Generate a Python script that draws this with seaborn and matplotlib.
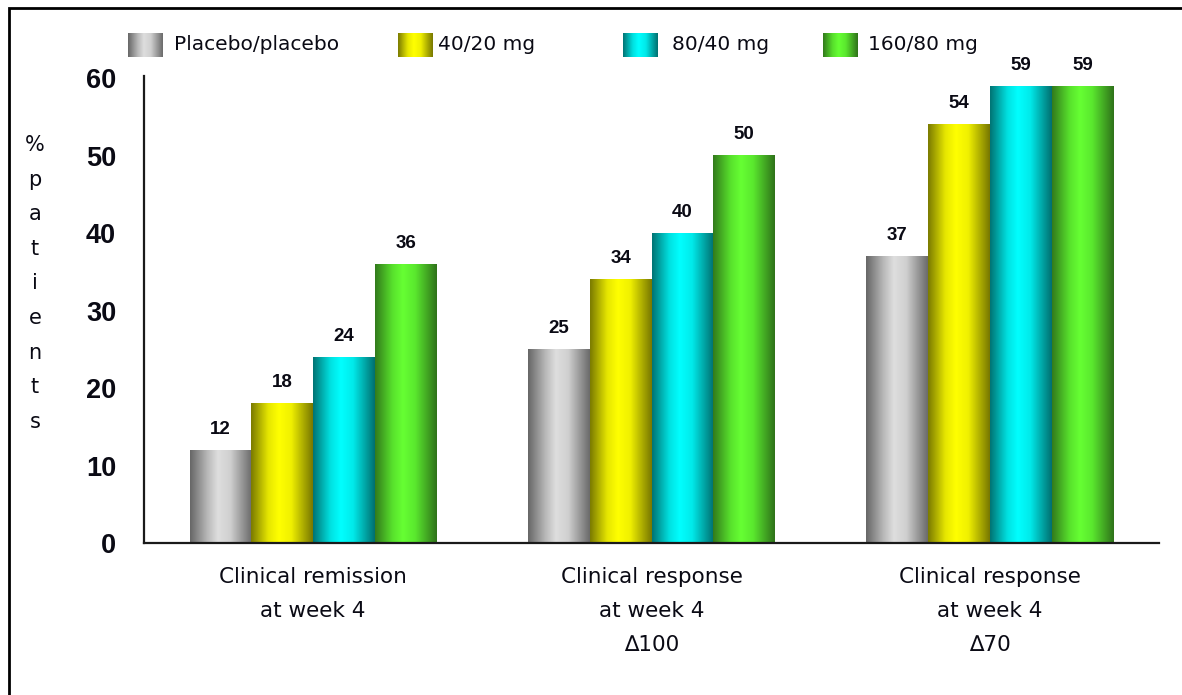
import numpy as np
import pandas as pd
import matplotlib
matplotlib.use("Agg")
import matplotlib.pyplot as plt
from matplotlib.colors import LinearSegmentedColormap
from matplotlib.patches import Rectangle
import seaborn as sns

# ---- data -------------------------------------------------------------
categories = [
    "Clinical remission\nat week 4",
    "Clinical response\nat week 4\n\u2206100",
    "Clinical response\nat week 4\n\u220670",
]
doses = ["Placebo/placebo", "40/20 mg", "80/40 mg", "160/80 mg"]
placebo = [12, 25, 37]
dose_40_20 = [18, 34, 54]
dose_80_40 = [24, 40, 59]
dose_160_80 = [36, 50, 59]
y_ticks = [0, 10, 20, 30, 40, 50, 60]

df = pd.DataFrame({
    "measure": categories * 4,
    "dose": np.repeat(doses, len(categories)),
    "pct": placebo + dose_40_20 + dose_80_40 + dose_160_80,
})

# cylinder-style shading per dose: dark edges, bright centre
shades = {
    "Placebo/placebo": ["#666666", "#b8b8b8", "#dedede", "#d0d0d0", "#6a6a6a"],
    "40/20 mg": ["#7a7a00", "#e6e600", "#ffff00", "#f0f000", "#777700"],
    "80/40 mg": ["#007373", "#00e0e0", "#00ffff", "#00eaea", "#006f6f"],
    "160/80 mg": ["#327a1c", "#58e02c", "#66ff33", "#5ae82e", "#2f721a"],
}
stops = [0.0, 0.28, 0.45, 0.65, 1.0]
cmaps = {k: LinearSegmentedColormap.from_list(k, list(zip(stops, v))) for k, v in shades.items()}
grad = np.linspace(0, 1, 256).reshape(1, -1)

W, H = 1182, 695
INK = "#0a0a14"
sns.set_style("white")
plt.rcParams["font.family"] = ["Liberation Sans", "DejaVu Sans"]
plt.rcParams["text.color"] = INK
plt.rcParams["xtick.color"] = INK
plt.rcParams["ytick.color"] = INK
hand_font = ["DejaVu Sans"]

fig = plt.figure(figsize=(W / 100, H / 100), dpi=100)
ax = fig.add_axes([144 / W, 1 - 543 / H, (1159 - 144) / W, (543 - 76) / H])

sns.barplot(data=df, x="measure", y="pct", hue="dose", order=categories,
            hue_order=doses, width=0.73, gap=0, legend=False,
            palette=[shades[d][2] for d in doses], saturation=1,
            edgecolor="none", ax=ax)

# replace flat fills with shaded gradients
for dose, cont in zip(doses, ax.containers):
    for bar in cont:
        x0, w, h = bar.get_x(), bar.get_width(), bar.get_height()
        bar.set_facecolor("none")
        ax.imshow(grad, cmap=cmaps[dose], aspect="auto", interpolation="bicubic",
                  extent=[x0, x0 + w, 0, h], zorder=2)
    ax.bar_label(cont, labels=[f"{v:.0f}" for v in cont.datavalues], padding=9,
                 fontsize=13.5, fontweight="bold", color=INK, zorder=3)

ax.set_xlim(-0.5, 2.5)
ax.set_ylim(0, 60.3)
ax.set_yticks(y_ticks)
ax.set_yticklabels([str(t) for t in y_ticks], fontsize=19.5, fontweight="bold")
ax.tick_params(axis="y", length=0, pad=20)
ax.tick_params(axis="x", length=0, pad=17)
ax.set_xticks(range(len(categories)))
ax.set_xticklabels(categories, fontsize=15.5, family=hand_font, linespacing=1.88)
ax.set_xlabel("")
ax.set_ylabel("")
for side in ["top", "right"]:
    ax.spines[side].set_visible(False)
for side in ["left", "bottom"]:
    ax.spines[side].set_color("#1a1a1a")
    ax.spines[side].set_linewidth(1.6)

# vertical stacked axis title
for i, ch in enumerate("%patients"):
    fig.text(35 / W, 1 - (145 + i * 34.6) / H, ch, ha="center", va="center",
             fontsize=15, family=hand_font)

# legend row with shaded swatches
legend_swatch_x = [128, 398, 623, 823]
legend_text_x = [174, 438, 672, 868]
for dose, sx, tx in zip(doses, legend_swatch_x, legend_text_x):
    lax = fig.add_axes([sx / W, 1 - 57 / H, 35 / W, 24 / H])
    lax.imshow(grad, cmap=cmaps[dose], aspect="auto", interpolation="bicubic")
    lax.axis("off")
    fig.text(tx / W, 1 - 45 / H, dose, ha="left", va="center", fontsize=14.5,
             family=hand_font)

# outer frame
fig.patches.append(Rectangle((9 / W, -0.1), 1.2, 1 - 8 / H + 0.1,
                             transform=fig.transFigure, fill=False,
                             edgecolor="black", linewidth=2))

fig.savefig("out.png", dpi=100)
